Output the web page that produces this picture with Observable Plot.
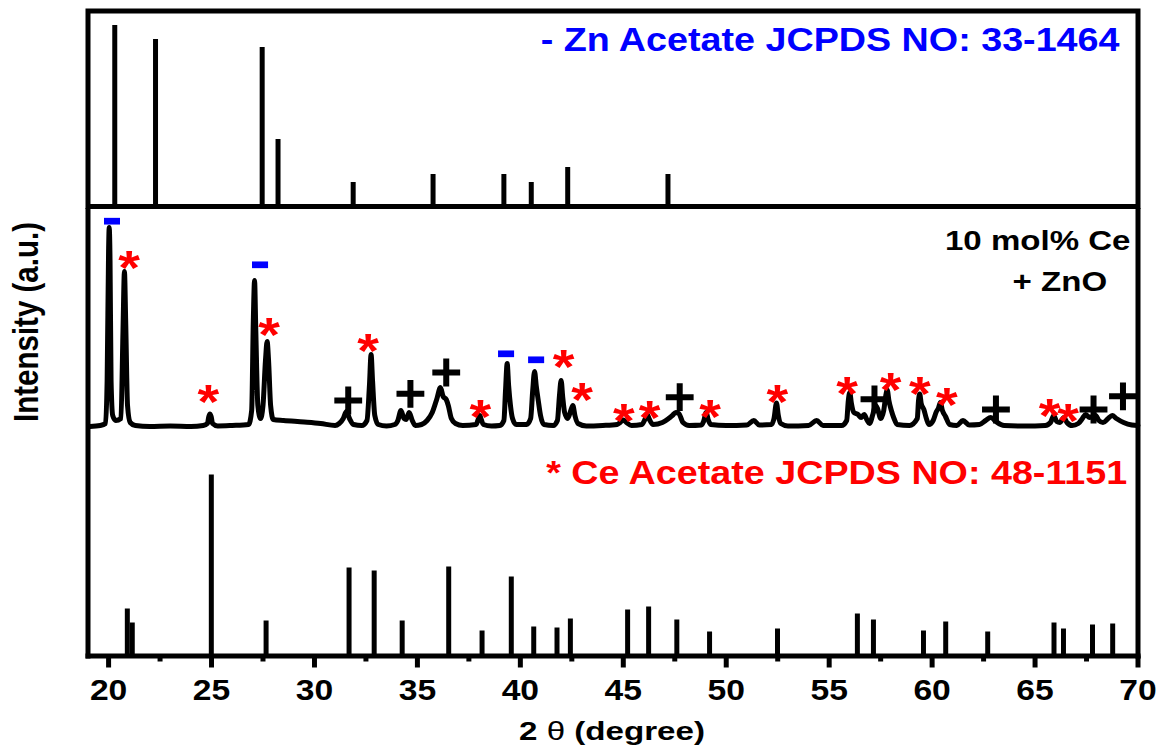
<!DOCTYPE html>
<html>
<head>
<meta charset="utf-8">
<script src="https://cdn.jsdelivr.net/npm/d3@7"></script>
<script src="https://cdn.jsdelivr.net/npm/@observablehq/plot@0.6"></script>
<style>
  body { margin: 0; background: #fff; }
  #wrap { position: relative; width: 1161px; height: 747px; font-family: "Liberation Sans", Arial, sans-serif; font-weight: bold; color: #000; }
  #topPanel { position: absolute; left: 0; top: 0; }
  #lowerPanel { position: absolute; left: 0; top: 208px; }
  #ylab { position: absolute; left: 26.3px; top: 321.5px; font-size: 29.5px; line-height: 1; white-space: nowrap;
          transform: translate(-50%, -50%) rotate(-90deg) scaleY(1.2); }
  #xlab { position: absolute; left: 611.5px; top: 718px; font-size: 26.5px; line-height: 1; white-space: nowrap;
          transform: translateX(-50%) scaleX(1.25); }
  #xlab .th { font-weight: normal; }
</style>
</head>
<body>
<div id="wrap">
  <div id="topPanel"></div>
  <div id="lowerPanel"></div>
  <div id="ylab">Intensity (a.u.)</div>
  <div id="xlab">2 <span class="th">θ</span> (degree)</div>
</div>
<script>
// ---------- data ----------
// Zn acetate reference (JCPDS 33-1464): 2θ and relative stick height (a.u.)
const znTheta     = [20.3, 22.28, 27.46, 28.23, 31.88, 35.76, 39.2, 40.53, 42.3, 47.17];
const znIntensity = [181, 167, 159, 67, 24, 32, 32, 24, 39, 32];

// Ce acetate reference (JCPDS 48-1151)
const ceTheta     = [20.91, 21.15, 24.99, 27.65, 31.68, 32.9, 34.26, 36.52, 38.14, 39.56, 40.65, 41.78, 42.43,
                     45.21, 46.23, 47.6, 49.19, 52.49, 56.37, 57.15, 59.58, 60.66, 62.7, 65.92, 66.38, 67.79, 68.77];
const ceIntensity = [47, 33, 181, 35, 88, 85, 35, 89, 25, 79, 29, 28, 37,
                     46, 49, 36, 24, 27, 42, 36, 25, 34, 24, 33, 27, 31, 32];

// Measured pattern: 10 mol% Ce + ZnO  [2θ, intensity above baseline]
const samplePattern = [
  [19.1,-1],[19.6,0],[19.85,2],[19.93,45],[20.0,175],[20.03,198],[20.07,165],[20.12,45],[20.2,10],[20.35,5],
  [20.6,7],[20.7,95],[20.77,154],[20.83,105],[20.92,20],[21.05,3],[21.3,0],[22,-1],[23,-0.5],[24,-1],[24.6,0],
  [24.8,2],[24.87,9],[24.92,11.5],[24.98,9],[25.05,2],[25.3,-0.5],[26,0],[26.8,1],[26.95,15],[27.03,105],
  [27.09,145],[27.15,95],[27.25,20],[27.38,7],[27.5,20],[27.62,65],[27.7,84],[27.77,65],[27.87,20],[28.0,6],
  [28.5,5],[29.5,3.5],[30.3,2],[31.0,0],[31.2,2],[31.4,7],[31.55,14],[31.7,7],[31.9,1],[32.3,0],[32.55,5],
  [32.67,40],[32.75,71],[32.82,45],[32.93,10],[33.1,1],[33.5,-0.5],[33.9,1],[34.05,5],[34.2,15],[34.35,7],
  [34.45,6],[34.6,13],[34.75,5],[34.9,0],[35.2,1],[35.47,5],[35.72,13],[35.95,27],[36.12,38],[36.25,29],
  [36.4,26],[36.5,20],[36.65,7],[36.85,2],[37.2,0],[37.85,1],[37.95,6],[38.03,10],[38.1,6],[38.2,1],[38.6,-0.5],
  [39.0,0],[39.2,5],[39.28,35],[39.36,62],[39.43,40],[39.52,20],[39.62,7],[39.8,1],[40.3,1],[40.5,7],[40.6,35],
  [40.69,54],[40.77,40],[40.87,25],[40.98,10],[41.15,1],[41.6,0],[41.8,5],[41.9,30],[41.98,45],[42.06,28],
  [42.15,13],[42.3,7],[42.45,15],[42.55,20],[42.65,10],[42.8,2],[43.2,-0.5],[44.0,0],[44.7,1],[44.85,3],
  [45.0,5.5],[45.15,3],[45.4,0],[45.9,1],[46.05,6],[46.16,11],[46.27,6],[46.45,1],[46.9,3],[47.2,7],[47.38,10],
  [47.55,13],[47.7,12],[47.9,3],[48.2,0],[48.8,0.5],[48.9,4],[49.03,13],[49.12,6],[49.25,1],[50.0,0],[51.0,0.5],
  [51.34,5],[51.6,0.5],[52.2,1],[52.32,7],[52.44,22.5],[52.53,10],[52.65,2],[53.0,-0.5],[54.0,0],[54.39,5],
  [54.7,0],[55.6,0],[55.85,5],[55.93,25],[56.0,33],[56.08,22],[56.2,13],[56.4,11],[56.55,8],[56.7,11],[56.85,5],
  [56.96,2],[57.12,11],[57.25,20],[57.35,17],[57.5,7],[57.65,15],[57.75,30],[57.82,35.5],[57.9,25],[58.02,15],
  [58.15,7],[58.3,1],[58.9,0],[59.28,7],[59.34,25],[59.4,31.5],[59.47,22],[59.6,16],[59.72,7],[59.85,1],
  [60.05,5],[60.21,14],[60.3,17],[60.4,23],[60.5,15],[60.65,9],[60.85,1],[61.2,0],[61.5,5],[61.8,0.5],[62.3,1],
  [62.6,5],[62.85,8],[63.1,4],[63.5,0],[64.5,-0.5],[65.5,0],[65.75,3],[65.91,10],[66.05,4],[66.2,3],[66.4,8],
  [66.55,3],[66.8,0],[67.1,2],[67.3,7],[67.45,11],[67.65,8],[67.8,9],[67.94,10],[68.1,5],[68.3,3],[68.55,7],
  [68.75,10],[68.95,7],[69.3,3],[69.7,0.5],[70.0,0]
];
const sampleOffset = 230.5;   // vertical stacking offset of the measured pattern

// phase markers on the measured pattern
const znMarkTheta = [20.19, 27.38, 39.33, 40.79];
const znMarkY     = [434.8, 391.2, 302.2, 296.2];
const ceMarkTheta = [21.0, 24.84, 27.8, 32.6, 38.06, 42.1, 43.0, 45.03, 46.28, 49.22, 52.48, 55.87, 57.98, 59.4, 60.72, 65.71, 66.6];
const ceMarkY     = [399.5, 264.7, 331.8, 316.5, 250.2, 299.7, 267.5, 246, 249.5, 250.5, 265.5, 273, 277.2, 273, 262, 250.8, 246.5];
const znoMarkTheta = [31.64, 34.66, 36.4, 47.74, 57.2, 63.1, 67.84, 69.27];
const znoMarkY     = [255.5, 262.2, 283.5, 258.8, 256.7, 246.5, 246.5, 259.7];

const majorTicks = [20, 25, 30, 35, 40, 45, 50, 55, 60, 65, 70];
const minorTicks = [22.5, 27.5, 32.5, 37.5, 42.5, 47.5, 52.5, 57.5, 62.5, 67.5];

const znLabel = "- Zn Acetate JCPDS NO: 33-1464";
const ceLabel = "* Ce Acetate JCPDS NO: 48-1151";
const sampleLabel = "10 mol% Ce";
const znoLabel = "+ ZnO";

// ---------- tables ----------
const zn = znTheta.map((t, i) => ({t, I: znIntensity[i]}));
const ce = ceTheta.map((t, i) => ({t, I: ceIntensity[i]}));
const sample = samplePattern.map(([t, I]) => ({t, I}));
const znMarks = znMarkTheta.map((t, i) => ({t, y: znMarkY[i]}));
const ceMarks = ceMarkTheta.map((t, i) => ({t, y: ceMarkY[i]}));
const znoMarks = znoMarkTheta.map((t, i) => ({t, y: znoMarkY[i]}));

const BLUE = "#0000ff", RED = "#ff0000";
const LW = 5;
const xDomain = [19, 70];
const common = {
  width: 1161, marginLeft: 87.5, marginRight: 23.5,
  style: {fontFamily: "'Liberation Sans', Arial, sans-serif", fontWeight: "bold", background: "transparent", overflow: "visible"}
};

// stretch text horizontally (the reference is slightly widened)
function stretch(svg, s) {
  d3.select(svg).selectAll("text").each(function () {
    const x = parseFloat(this.getAttribute("x")) || 0;
    const t = this.getAttribute("transform") || "";
    this.setAttribute("transform", `${t} translate(${x},0) scale(${s},1) translate(${-x},0)`);
  });
  return svg;
}

// ---------- top panel ----------
const topPlot = Plot.plot({
  ...common,
  height: 208, marginTop: 10.5, marginBottom: 2,
  x: {domain: xDomain, axis: null},
  y: {domain: [0, 195.5], axis: null},
  marks: [
    Plot.ruleX(zn, {x: "t", y1: 0, y2: "I", stroke: "black", strokeWidth: LW}),
    Plot.frame({stroke: "black", strokeWidth: LW}),
    Plot.text([znLabel], {frameAnchor: "top-right", text: d => d, textAnchor: "end", lineAnchor: "bottom",
      dx: -18.5, dy: 40.2, fill: BLUE, fontSize: 32.5, fontWeight: "bold"})
  ]
});
document.getElementById("topPanel").append(stretch(topPlot, 1.16));

// ---------- lower panel ----------
const lowerPlot = Plot.plot({
  ...common,
  height: 539, marginTop: 2, marginBottom: 91.5,
  x: {domain: xDomain},
  y: {domain: [0, 445.5], axis: null},
  marks: [
    Plot.ruleX(ce, {x: "t", y1: 0, y2: "I", stroke: "black", strokeWidth: LW}),
    Plot.line(sample, {x: "t", y: d => d.I + sampleOffset, stroke: "black", strokeWidth: 5, curve: "monotone-x"}),
    Plot.ruleY(znMarks, {y: "y", x1: d => d.t - 0.39, x2: d => d.t + 0.39, stroke: BLUE, strokeWidth: 6.7}),
    Plot.text(ceMarks, {x: "t", y: "y", text: () => "*", fill: RED, fontSize: 48, fontWeight: "bold",
      lineAnchor: "bottom", dy: 27}),
    Plot.dot(znoMarks, {x: "t", y: "y", symbol: "plus", r: 9, stroke: "black", strokeWidth: 6}),
    Plot.frame({anchor: "left", stroke: "black", strokeWidth: LW, strokeLinecap: "square"}),
    Plot.frame({anchor: "right", stroke: "black", strokeWidth: LW, strokeLinecap: "square"}),
    Plot.frame({anchor: "bottom", stroke: "black", strokeWidth: LW, strokeLinecap: "square"}),
    Plot.axisX({ticks: minorTicks, tickSize: 6, tickFormat: () => "", strokeWidth: LW, label: null}),
    Plot.axisX({ticks: majorTicks, tickSize: 12, tickPadding: 11.8, strokeWidth: LW, label: null,
      fontSize: 29, fontWeight: "bold", tickFormat: d => String(d)}),
    Plot.text([sampleLabel], {frameAnchor: "top-right", text: d => d, textAnchor: "end", lineAnchor: "bottom",
      dx: -7.5, dy: 39.3, fill: "black", fontSize: 28.5, fontWeight: "bold"}),
    Plot.text([znoLabel], {frameAnchor: "top-right", text: d => d, textAnchor: "end", lineAnchor: "bottom",
      dx: -30.8, dy: 80.7, fill: "black", fontSize: 28.5, fontWeight: "bold"}),
    Plot.text([ceLabel], {frameAnchor: "top-right", text: d => d, textAnchor: "end", lineAnchor: "bottom",
      dx: -10.8, dy: 273.3, fill: RED, fontSize: 32.5, fontWeight: "bold"})
  ]
});
document.getElementById("lowerPanel").append(stretch(lowerPlot, 1.16));
</script>
</body>
</html>
